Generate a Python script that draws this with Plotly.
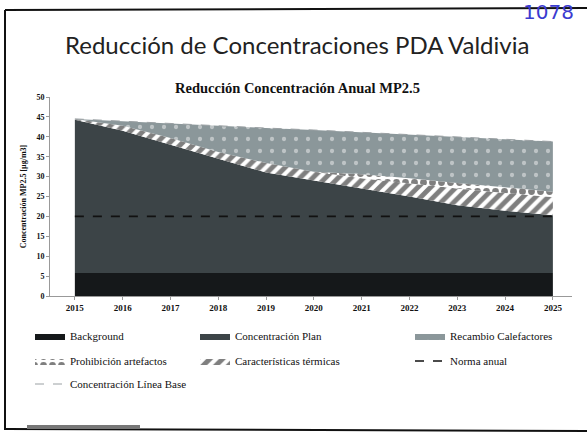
import plotly.graph_objects as go

years = [2015, 2016, 2017, 2018, 2019, 2020, 2021, 2022, 2023, 2024, 2025]
background = [5.8, 5.8, 5.8, 5.8, 5.8, 5.8, 5.8, 5.8, 5.8, 5.8, 5.8]
concentracion_plan = [38.5, 35.7, 32.2, 28.7, 25.2, 23.2, 21.2, 19.2, 17.0, 15.6, 14.5]
caracteristicas_termicas = [0.2, 1.3, 1.7, 1.7, 2.4, 2.2, 2.6, 3.3, 4.2, 4.5, 4.6]
prohibicion_artefactos = [0.0, 0.0, 0.0, 0.0, 0.0, 0.0, 1.0, 1.3, 1.4, 1.4, 1.3]
recambio_calefactores = [0.0, 1.1, 3.7, 6.6, 8.8, 10.5, 10.5, 10.9, 11.6, 12.1, 12.6]
linea_base = [44.5, 43.9, 43.4, 42.8, 42.2, 41.7, 41.1, 40.5, 40.0, 39.4, 38.8]
norma_anual = [20, 20, 20, 20, 20, 20, 20, 20, 20, 20, 20]
y_ticks = [0, 5, 10, 15, 20, 25, 30, 35, 40, 45, 50]

serif = "Liberation Serif, Times New Roman, serif"

fig = go.Figure()

def area(name, vals, color, legend, pattern=None):
    kw = dict(x=years, y=vals, name=name, mode="lines", stackgroup="one",
              line=dict(width=0, color=color), fillcolor=color, legend=legend)
    if pattern:
        kw["fillpattern"] = pattern
    fig.add_trace(go.Scatter(**kw))

area("Background", background, "#15181a", "legend")
area("Concentración Plan", concentracion_plan, "#3c4447", "legend2")
area("Características térmicas", caracteristicas_termicas, "#ffffff", "legend5",
     dict(shape="/", fgcolor="#000000", bgcolor="#ffffff", size=9, solidity=0.55))
area("Prohibición artefactos", prohibicion_artefactos, "#ffffff", "legend4",
     dict(shape=".", fgcolor="#000000", bgcolor="#ffffff", size=9, solidity=0.45))
area("Recambio Calefactores", recambio_calefactores, "#8b979a", "legend3",
     dict(shape=".", fgcolor="#f2f2f2", bgcolor="#8b979a", size=12, solidity=0.1))

fig.add_trace(go.Scatter(x=years, y=norma_anual, name="Norma anual", mode="lines",
                         line=dict(color="#111111", width=1.6, dash="dash"), legend="legend6"))
fig.add_trace(go.Scatter(x=years, y=linea_base, name="Concentración Línea Base", mode="lines",
                         line=dict(color="#9aa0a3", width=1, dash="dash"), legend="legend7"))

L, R, T, B = 50, 15, 97, 148
W, H = 587, 444
pw = W - L - R
ph = H - T - B

def px2x(px):
    return (px - L) / pw

def py2y(py):
    return (H - B - py) / ph

leg_font = dict(family=serif, size=11, color="#111111")
# (text start x, row centre y) in pixels
legend_pos = {
    "legend": (70, 336), "legend2": (235, 336), "legend3": (450, 336),
    "legend4": (70, 361), "legend5": (235, 361), "legend6": (450, 361),
    "legend7": (70, 384),
}
layout_legends = {}
for k, (px, py) in legend_pos.items():
    layout_legends[k] = dict(x=px2x(px - 40), y=py2y(py), xanchor="left", yanchor="middle",
                             orientation="h", font=leg_font, bgcolor="rgba(0,0,0,0)",
                             itemwidth=30, tracegroupgap=0)

fig.update_layout(
    width=W, height=H,
    margin=dict(l=L, r=R, t=T, b=B, autoexpand=False),
    paper_bgcolor="#ffffff", plot_bgcolor="#ffffff",
    showlegend=True,
    **layout_legends,
    xaxis=dict(range=[2014.48, 2025.4], tickmode="array", tickvals=years,
               ticktext=["<b>%d</b>" % y for y in years], showgrid=False, zeroline=False,
               showline=True, linecolor="#999999", linewidth=1,
               ticks="outside", ticklen=3, tickcolor="#999999", automargin=False,
               tickfont=dict(family=serif, size=9, color="#111111"), fixedrange=True),
    yaxis=dict(range=[0, 50], tickmode="array", tickvals=y_ticks,
               ticktext=["<b>%d</b>" % v for v in y_ticks],
               showgrid=False, zeroline=False, showline=True, linecolor="#999999",
               linewidth=1, ticks="outside", ticklen=3, tickcolor="#999999", automargin=False,
               tickfont=dict(family=serif, size=8, color="#111111"),
               title=dict(text="<b>Concentración MP2.5 [µg/m3]</b>",
                          font=dict(family=serif, size=8, color="#111111"), standoff=8),
               fixedrange=True),
)

fig.add_annotation(text="Reducción de Concentraciones PDA Valdivia", xref="paper", yref="paper",
                   x=px2x(297), y=py2y(44), xanchor="center", yanchor="middle", showarrow=False,
                   font=dict(family="Lato, Carlito, sans-serif", size=24, color="#222222"))
fig.add_annotation(text="<b>Reducción Concentración Anual MP2.5</b>", xref="paper", yref="paper",
                   x=px2x(297), y=py2y(88), xanchor="center", yanchor="middle", showarrow=False,
                   font=dict(family=serif, size=14.5, color="#111111"))
fig.add_annotation(text="1078", xref="paper", yref="paper",
                   x=px2x(548), y=py2y(12), xanchor="center", yanchor="middle", showarrow=False,
                   font=dict(family="DejaVu Sans", size=20, color="#3b3bd0"))

# slide frame from scan
frame = dict(type="line", xref="paper", yref="paper", line=dict(color="#111111", width=2))
fig.add_shape(**frame, x0=px2x(5), x1=px2x(5), y0=py2y(10), y1=py2y(430))
fig.add_shape(**frame, x0=px2x(5), x1=px2x(587), y0=py2y(10), y1=py2y(8))
fig.add_shape(**frame, x0=px2x(5), x1=px2x(587), y0=py2y(429), y1=py2y(431))
fig.add_shape(type="rect", xref="paper", yref="paper", x0=px2x(27), x1=px2x(140),
              y0=py2y(429), y1=py2y(425), line=dict(width=0), fillcolor="#777777")

fig.write_html("out.html", config={"displayModeBar": False},
               post_script="document.body.style.margin='0';document.body.style.overflow='hidden';")
